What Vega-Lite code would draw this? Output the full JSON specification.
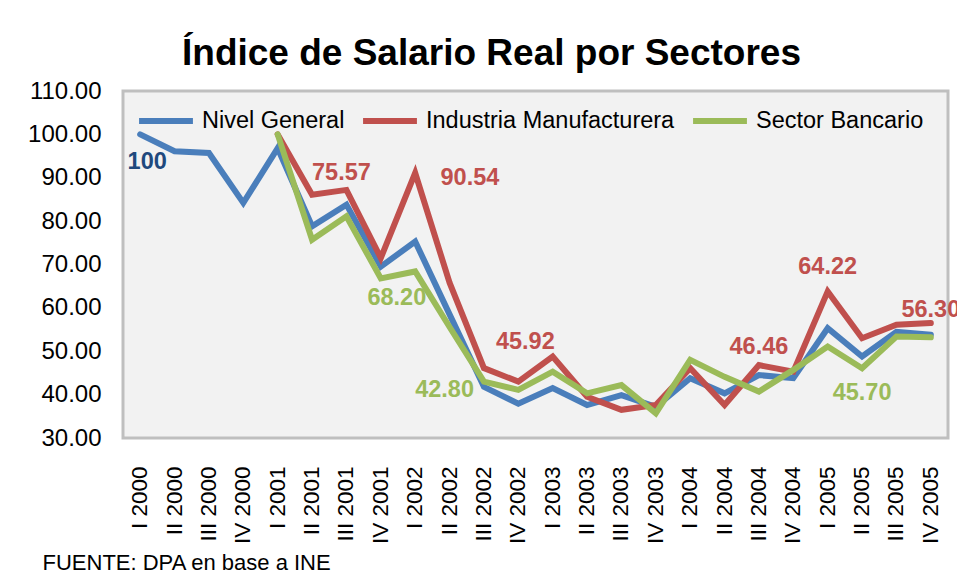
{
  "$schema": "https://vega.github.io/schema/vega-lite/v6.json",
  "autosize": {"type": "none"},
  "padding": {"left": 123, "top": 91, "right": 9, "bottom": 143},
  "width": 825,
  "height": 347,
  "background": "white",
  "config": {
    "font": "Liberation Sans",
    "view": {"fill": "#F2F2F2", "stroke": "#BFBFBF", "strokeWidth": 3}
  },
  "title": {
    "text": "Índice de Salario Real por Sectores",
    "font": "Liberation Sans",
    "fontSize": 37,
    "fontWeight": "bold",
    "color": "#000000",
    "anchor": "middle",
    "dx": -44,
    "offset": 6
  },
  "datasets": {
    "series": [
      {"period": "I 2000", "series": "Nivel General", "value": 100},
      {"period": "II 2000", "series": "Nivel General", "value": 96.1},
      {"period": "III 2000", "series": "Nivel General", "value": 95.7},
      {"period": "IV 2000", "series": "Nivel General", "value": 84.2},
      {"period": "I 2001", "series": "Nivel General", "value": 96.8},
      {"period": "II 2001", "series": "Nivel General", "value": 78.8},
      {"period": "III 2001", "series": "Nivel General", "value": 83.8},
      {"period": "IV 2001", "series": "Nivel General", "value": 69.5},
      {"period": "I 2002", "series": "Nivel General", "value": 75.3},
      {"period": "II 2002", "series": "Nivel General", "value": 58.5},
      {"period": "III 2002", "series": "Nivel General", "value": 41.8},
      {"period": "IV 2002", "series": "Nivel General", "value": 37.9},
      {"period": "I 2003", "series": "Nivel General", "value": 41.5},
      {"period": "II 2003", "series": "Nivel General", "value": 37.6},
      {"period": "III 2003", "series": "Nivel General", "value": 39.9},
      {"period": "IV 2003", "series": "Nivel General", "value": 37.2},
      {"period": "I 2004", "series": "Nivel General", "value": 43.8},
      {"period": "II 2004", "series": "Nivel General", "value": 40.3},
      {"period": "III 2004", "series": "Nivel General", "value": 44.5},
      {"period": "IV 2004", "series": "Nivel General", "value": 43.8},
      {"period": "I 2005", "series": "Nivel General", "value": 55.3},
      {"period": "II 2005", "series": "Nivel General", "value": 48.8},
      {"period": "III 2005", "series": "Nivel General", "value": 54.5},
      {"period": "IV 2005", "series": "Nivel General", "value": 53.8},
      {"period": "I 2001", "series": "Industria Manufacturera", "value": 100},
      {"period": "II 2001", "series": "Industria Manufacturera", "value": 86.1},
      {"period": "III 2001", "series": "Industria Manufacturera", "value": 87.2},
      {"period": "IV 2001", "series": "Industria Manufacturera", "value": 71.5},
      {"period": "I 2002", "series": "Industria Manufacturera", "value": 91.1},
      {"period": "II 2002", "series": "Industria Manufacturera", "value": 65.8},
      {"period": "III 2002", "series": "Industria Manufacturera", "value": 46.1},
      {"period": "IV 2002", "series": "Industria Manufacturera", "value": 43.0},
      {"period": "I 2003", "series": "Industria Manufacturera", "value": 48.8},
      {"period": "II 2003", "series": "Industria Manufacturera", "value": 39.5},
      {"period": "III 2003", "series": "Industria Manufacturera", "value": 36.5},
      {"period": "IV 2003", "series": "Industria Manufacturera", "value": 37.6},
      {"period": "I 2004", "series": "Industria Manufacturera", "value": 46.1},
      {"period": "II 2004", "series": "Industria Manufacturera", "value": 37.6},
      {"period": "III 2004", "series": "Industria Manufacturera", "value": 46.8},
      {"period": "IV 2004", "series": "Industria Manufacturera", "value": 45.3},
      {"period": "I 2005", "series": "Industria Manufacturera", "value": 63.8},
      {"period": "II 2005", "series": "Industria Manufacturera", "value": 53.0},
      {"period": "III 2005", "series": "Industria Manufacturera", "value": 56.1},
      {"period": "IV 2005", "series": "Industria Manufacturera", "value": 56.5},
      {"period": "I 2001", "series": "Sector Bancario", "value": 100},
      {"period": "II 2001", "series": "Sector Bancario", "value": 75.7},
      {"period": "III 2001", "series": "Sector Bancario", "value": 81.1},
      {"period": "IV 2001", "series": "Sector Bancario", "value": 66.8},
      {"period": "I 2002", "series": "Sector Bancario", "value": 68.4},
      {"period": "II 2002", "series": "Sector Bancario", "value": 55.6},
      {"period": "III 2002", "series": "Sector Bancario", "value": 43.0},
      {"period": "IV 2002", "series": "Sector Bancario", "value": 41.1},
      {"period": "I 2003", "series": "Sector Bancario", "value": 45.3},
      {"period": "II 2003", "series": "Sector Bancario", "value": 40.3},
      {"period": "III 2003", "series": "Sector Bancario", "value": 42.2},
      {"period": "IV 2003", "series": "Sector Bancario", "value": 35.7},
      {"period": "I 2004", "series": "Sector Bancario", "value": 48.0},
      {"period": "II 2004", "series": "Sector Bancario", "value": 44.1},
      {"period": "III 2004", "series": "Sector Bancario", "value": 40.7},
      {"period": "IV 2004", "series": "Sector Bancario", "value": 45.7},
      {"period": "I 2005", "series": "Sector Bancario", "value": 51.1},
      {"period": "II 2005", "series": "Sector Bancario", "value": 46.1},
      {"period": "III 2005", "series": "Sector Bancario", "value": 53.4},
      {"period": "IV 2005", "series": "Sector Bancario", "value": 53.2}
    ],
    "labels": [
      {"period": "I 2000", "series": "Nivel General", "label": "100", "pos": 93.7},
      {"period": "III 2001", "series": "Industria Manufacturera", "label": "75.57", "pos": 91.1},
      {"period": "III 2002", "series": "Industria Manufacturera", "label": "90.54", "pos": 90.0},
      {"period": "IV 2001", "series": "Sector Bancario", "label": "68.20", "pos": 62.3},
      {"period": "II 2002", "series": "Sector Bancario", "label": "42.80", "pos": 41.1},
      {"period": "IV 2002", "series": "Industria Manufacturera", "label": "45.92", "pos": 52.2},
      {"period": "III 2004", "series": "Industria Manufacturera", "label": "46.46", "pos": 51.0},
      {"period": "I 2005", "series": "Industria Manufacturera", "label": "64.22", "pos": 69.5},
      {"period": "IV 2005", "series": "Industria Manufacturera", "label": "56.30", "pos": 59.5},
      {"period": "II 2005", "series": "Sector Bancario", "label": "45.70", "pos": 40.4}
    ]
  },
  "encoding": {
    "x": {
      "field": "period",
      "type": "ordinal",
      "sort": null,
      "scale": {"type": "band", "paddingInner": 0, "paddingOuter": 0},
      "axis": {
        "title": "FUENTE: DPA en base a INE",
        "titleFont": "Liberation Sans",
        "titleFontSize": 22,
        "titleFontWeight": "normal",
        "titleColor": "#000000",
        "titleAnchor": "start",
        "titleAlign": "left",
        "titleBaseline": "middle",
        "titleAngle": 0,
        "titleX": -81,
        "titleY": 124,
        "labelAngle": -90,
        "labelAlign": "right",
        "labelBaseline": "middle",
        "labelFontSize": 22.5,
        "labelColor": "#000000",
        "labelPadding": 28,
        "labelOverlap": false,
        "ticks": false,
        "domain": false,
        "grid": false
      }
    },
    "y": {
      "type": "quantitative",
      "scale": {"domain": [30, 110], "nice": false, "zero": false},
      "axis": {
        "title": null,
        "values": [30, 40, 50, 60, 70, 80, 90, 100, 110],
        "format": ".2f",
        "labelFontSize": 24,
        "labelColor": "#000000",
        "labelPadding": 22,
        "ticks": false,
        "domain": false,
        "grid": false
      }
    }
  },
  "layer": [
    {
      "data": {"name": "series"},
      "mark": {"type": "line", "strokeWidth": 6, "strokeCap": "round"},
      "encoding": {
        "y": {"field": "value", "type": "quantitative"},
        "color": {
          "field": "series",
          "type": "nominal",
          "sort": ["Nivel General", "Industria Manufacturera", "Sector Bancario"],
          "scale": {
            "domain": ["Nivel General", "Industria Manufacturera", "Sector Bancario"],
            "range": ["#4A7EBB", "#C0504D", "#9BBB59"]
          },
          "legend": {
            "title": null,
            "orient": "none",
            "legendX": 13,
            "legendY": 0,
            "direction": "horizontal",
            "symbolType": "stroke",
            "symbolSize": 2900,
            "symbolStrokeWidth": 6,
            "labelFontSize": 23.5,
            "labelColor": "#000000",
            "labelOffset": 6,
            "columnPadding": 6,
            "padding": 0,
            "labelLimit": 400
          }
        },
        "order": {"field": "series", "sort": "descending"}
      }
    },
    {
      "data": {"name": "labels"},
      "encoding": {
        "y": {"field": "pos", "type": "quantitative"},
        "text": {"field": "label"},
        "color": {
          "field": "series",
          "type": "nominal",
          "scale": {
            "domain": ["Nivel General", "Industria Manufacturera", "Sector Bancario"],
            "range": ["#1F497D", "#C0504D", "#9BBB59"]
          },
          "legend": null
        }
      },
      "layer": [
        {
          "transform": [{"filter": {"field": "label", "oneOf": ["46.46", "64.22", "56.30", "45.70"]}}],
          "mark": {"type": "text", "fontSize": 23.5, "fontWeight": "bold", "baseline": "middle", "align": "center"}
        },
        {
          "transform": [{"filter": {"field": "label", "oneOf": ["100", "45.92"]}}],
          "mark": {"type": "text", "fontSize": 23.5, "fontWeight": "bold", "baseline": "middle", "align": "center", "dx": 7}
        },
        {
          "transform": [{"filter": {"field": "label", "oneOf": ["75.57", "42.80"]}}],
          "mark": {"type": "text", "fontSize": 23.5, "fontWeight": "bold", "baseline": "middle", "align": "center", "dx": -5}
        },
        {
          "transform": [{"filter": {"field": "label", "oneOf": ["90.54"]}}],
          "mark": {"type": "text", "fontSize": 23.5, "fontWeight": "bold", "baseline": "middle", "align": "center", "dx": -14}
        },
        {
          "transform": [{"filter": {"field": "label", "oneOf": ["68.20"]}}],
          "mark": {"type": "text", "fontSize": 23.5, "fontWeight": "bold", "baseline": "middle", "align": "center", "dx": 16}
        }
      ]
    }
  ],
  "resolve": {"scale": {"color": "independent"}}
}
